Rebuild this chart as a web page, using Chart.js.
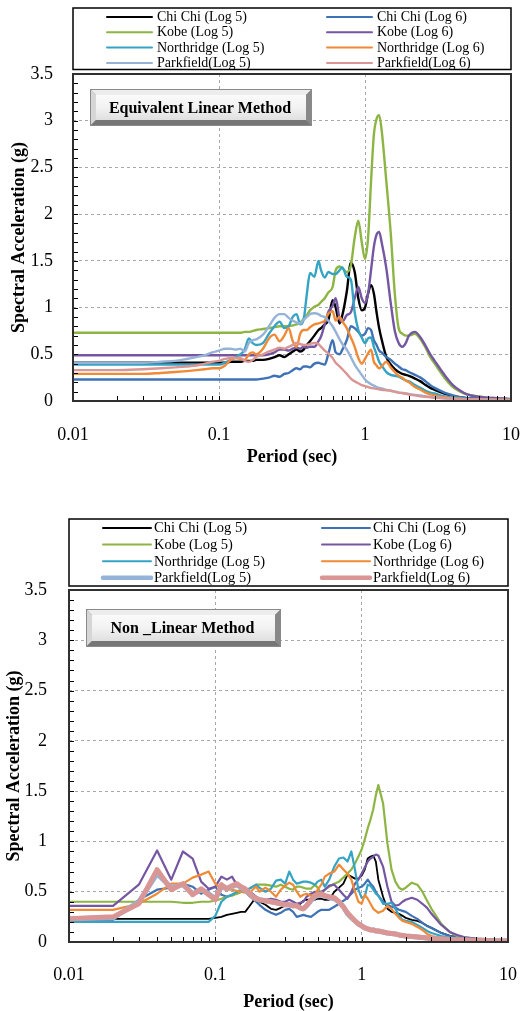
<!DOCTYPE html>
<html>
<head>
<meta charset="utf-8">
<title>Spectral Acceleration - Equivalent Linear / Non Linear</title>
<script src="https://cdn.jsdelivr.net/npm/chart.js@4.4.1/dist/chart.umd.min.js"></script>
<style>
  html, body { margin: 0; background: #fff; overflow: hidden; }
  #wrap { position: relative; width: 520px; height: 1011px; overflow: hidden; }
  canvas { position: absolute; left: 0; }
  #eqChart { top: 0; }
  #nlChart { top: 490px; }
</style>
</head>
<body>
<div id="wrap">
  <canvas id="eqChart" width="520" height="490"></canvas>
  <canvas id="nlChart" width="520" height="523"></canvas>
</div>
<script>
// series names / colours (same for both charts)
const seriesNames = ['Chi Chi (Log 5)', 'Chi Chi (Log 6)', 'Kobe (Log 5)', 'Kobe (Log 6)',
    'Northridge (Log 5)', 'Northridge (Log 6)', 'Parkfield(Log 5)', 'Parkfield(Log 6)'];
const seriesColors = ['#000000', '#3f72b5', '#8db543', '#7556a3', '#35a4c4', '#f08a36', '#95b3d7', '#d99694'];

// ---- Equivalent Linear Method : period (sec) / Sa (g)
const eqPeriods = [0.01, 0.02, 0.03, 0.04, 0.05, 0.06, 0.07, 0.08, 0.09, 0.1,
    0.11, 0.12, 0.13, 0.14, 0.15, 0.16, 0.17, 0.18, 0.2, 0.22,
    0.24, 0.26, 0.28, 0.3, 0.32, 0.34, 0.36, 0.38, 0.4, 0.42,
    0.45, 0.48, 0.5, 0.53, 0.56, 0.6, 0.63, 0.67, 0.7, 0.75,
    0.8, 0.85, 0.9, 0.95, 1, 1.05, 1.1, 1.15, 1.2, 1.25,
    1.3, 1.4, 1.5, 1.6, 1.7, 1.8, 1.9, 2, 2.2, 2.4,
    2.6, 2.8, 3, 3.5, 4, 4.5, 5, 6, 7, 8,
    10];
const eqChiChi5 = [0.41, 0.41, 0.41, 0.41, 0.41, 0.41, 0.41, 0.41, 0.41, 0.41,
    0.41, 0.42, 0.42, 0.42, 0.43, 0.43, 0.43, 0.44, 0.44, 0.45,
    0.47, 0.49, 0.47, 0.50, 0.53, 0.55, 0.53, 0.55, 0.60, 0.64,
    0.70, 0.76, 0.78, 0.82, 0.86, 1.08, 1.00, 0.83, 0.92, 1.17,
    1.48, 1.38, 1.10, 0.97, 1.00, 1.15, 1.24, 1.15, 0.95, 0.78,
    0.66, 0.47, 0.39, 0.34, 0.31, 0.29, 0.28, 0.27, 0.24, 0.21,
    0.17, 0.14, 0.12, 0.08, 0.05, 0.04, 0.03, 0.025, 0.02, 0.02,
    0.015];
const eqChiChi6 = [0.23, 0.23, 0.23, 0.23, 0.23, 0.23, 0.23, 0.23, 0.23, 0.23,
    0.23, 0.23, 0.23, 0.23, 0.23, 0.23, 0.23, 0.23, 0.24, 0.25,
    0.27, 0.26, 0.29, 0.30, 0.33, 0.35, 0.34, 0.37, 0.37, 0.36,
    0.40, 0.41, 0.40, 0.39, 0.50, 0.65, 0.52, 0.50, 0.55, 0.65,
    0.80, 0.78, 0.74, 0.70, 0.72, 0.78, 0.76, 0.65, 0.60, 0.54,
    0.52, 0.47, 0.44, 0.40, 0.37, 0.34, 0.33, 0.31, 0.28, 0.25,
    0.21, 0.17, 0.14, 0.09, 0.06, 0.04, 0.03, 0.025, 0.02, 0.02,
    0.015];
const eqKobe5 = [0.73, 0.73, 0.73, 0.73, 0.73, 0.73, 0.73, 0.73, 0.73, 0.73,
    0.73, 0.73, 0.73, 0.73, 0.74, 0.74, 0.75, 0.76, 0.77, 0.78,
    0.79, 0.80, 0.80, 0.80, 0.81, 0.82, 0.84, 0.88, 0.92, 0.97,
    1.01, 1.03, 1.06, 1.10, 1.16, 1.22, 1.40, 1.44, 1.42, 1.38,
    1.45, 1.75, 1.93, 1.70, 1.52, 1.75, 2.35, 2.85, 3.02, 3.06,
    2.90, 2.35, 1.80, 1.15, 0.78, 0.72, 0.70, 0.70, 0.72, 0.66,
    0.57, 0.47, 0.40, 0.25, 0.15, 0.10, 0.07, 0.05, 0.035, 0.03,
    0.02];
const eqKobe6 = [0.49, 0.49, 0.49, 0.49, 0.49, 0.49, 0.49, 0.49, 0.49, 0.49,
    0.49, 0.49, 0.49, 0.49, 0.49, 0.49, 0.49, 0.49, 0.49, 0.50,
    0.52, 0.55, 0.55, 0.54, 0.56, 0.57, 0.56, 0.58, 0.57, 0.58,
    0.58, 0.64, 0.69, 0.82, 0.95, 1.02, 1.10, 0.88, 0.85, 0.92,
    0.95, 1.10, 1.22, 1.10, 1.05, 1.15, 1.40, 1.65, 1.78, 1.81,
    1.70, 1.42, 1.05, 0.75, 0.62, 0.58, 0.62, 0.70, 0.74, 0.68,
    0.59, 0.50, 0.43, 0.28, 0.17, 0.11, 0.07, 0.045, 0.035, 0.03,
    0.02];
const eqNorth5 = [0.39, 0.39, 0.39, 0.39, 0.39, 0.39, 0.39, 0.39, 0.39, 0.39,
    0.41, 0.44, 0.47, 0.50, 0.55, 0.67, 0.62, 0.60, 0.62, 0.72,
    0.80, 0.85, 0.78, 0.80, 0.90, 0.93, 0.82, 0.87, 1.15, 1.37,
    1.33, 1.50, 1.40, 1.32, 1.38, 1.36, 1.36, 1.40, 1.43, 1.33,
    1.30, 0.95, 0.76, 0.68, 0.62, 0.67, 0.68, 0.58, 0.50, 0.42,
    0.38, 0.31, 0.28, 0.27, 0.26, 0.24, 0.22, 0.21, 0.17, 0.14,
    0.11, 0.09, 0.08, 0.05, 0.04, 0.03, 0.025, 0.02, 0.02, 0.015,
    0.015];
const eqNorth6 = [0.29, 0.29, 0.29, 0.30, 0.31, 0.32, 0.33, 0.34, 0.35, 0.35,
    0.38, 0.44, 0.46, 0.45, 0.44, 0.50, 0.52, 0.50, 0.56, 0.67,
    0.71, 0.64, 0.70, 0.78, 0.64, 0.58, 0.72, 0.76, 0.76, 0.79,
    0.82, 0.83, 0.84, 0.86, 0.93, 0.96, 0.86, 0.90, 0.85, 0.78,
    0.68, 0.58, 0.46, 0.40, 0.45, 0.51, 0.55, 0.42, 0.38, 0.35,
    0.37, 0.42, 0.36, 0.31, 0.27, 0.25, 0.22, 0.20, 0.15, 0.12,
    0.09, 0.07, 0.06, 0.04, 0.03, 0.025, 0.02, 0.02, 0.015, 0.015,
    0.01];
const eqPark5 = [0.41, 0.41, 0.41, 0.42, 0.43, 0.45, 0.47, 0.49, 0.52, 0.54,
    0.56, 0.56, 0.55, 0.56, 0.53, 0.62, 0.65, 0.66, 0.71, 0.80,
    0.89, 0.93, 0.93, 0.89, 0.86, 0.84, 0.83, 0.87, 0.90, 0.93,
    0.94, 0.93, 0.91, 0.90, 0.86, 0.80, 0.74, 0.66, 0.61, 0.55,
    0.47, 0.39, 0.33, 0.28, 0.23, 0.20, 0.18, 0.165, 0.15, 0.14,
    0.135, 0.12, 0.11, 0.10, 0.09, 0.085, 0.08, 0.075, 0.065, 0.06,
    0.05, 0.045, 0.04, 0.03, 0.025, 0.02, 0.02, 0.015, 0.015, 0.01,
    0.01];
const eqPark6 = [0.33, 0.33, 0.34, 0.35, 0.36, 0.37, 0.38, 0.40, 0.42, 0.43,
    0.45, 0.46, 0.46, 0.46, 0.43, 0.42, 0.44, 0.47, 0.50, 0.53,
    0.55, 0.57, 0.56, 0.58, 0.60, 0.62, 0.61, 0.60, 0.60, 0.61,
    0.62, 0.61, 0.58, 0.54, 0.51, 0.46, 0.41, 0.37, 0.34, 0.29,
    0.24, 0.21, 0.19, 0.17, 0.16, 0.15, 0.14, 0.135, 0.13, 0.125,
    0.12, 0.115, 0.11, 0.10, 0.09, 0.085, 0.08, 0.07, 0.06, 0.05,
    0.045, 0.04, 0.035, 0.03, 0.025, 0.02, 0.02, 0.015, 0.01, 0.01,
    0.01];

// ---- Non _Linear Method : period (sec) / Sa (g)
const nlPeriods = [0.01, 0.02, 0.03, 0.04, 0.05, 0.06, 0.07, 0.08, 0.09, 0.1,
    0.11, 0.12, 0.13, 0.14, 0.15, 0.16, 0.17, 0.18, 0.19, 0.2,
    0.22, 0.24, 0.26, 0.28, 0.3, 0.32, 0.34, 0.36, 0.38, 0.4,
    0.42, 0.45, 0.48, 0.5, 0.53, 0.56, 0.6, 0.65, 0.7, 0.75,
    0.8, 0.85, 0.9, 0.95, 1, 1.05, 1.1, 1.15, 1.2, 1.25,
    1.3, 1.4, 1.5, 1.6, 1.7, 1.8, 1.9, 2, 2.2, 2.4,
    2.6, 2.8, 3, 3.5, 4, 4.5, 5, 6, 7, 8,
    10];
const nlChiChi5 = [0.23, 0.23, 0.23, 0.23, 0.23, 0.23, 0.23, 0.23, 0.23, 0.24,
    0.25, 0.27, 0.28, 0.29, 0.30, 0.30, 0.35, 0.40, 0.45, 0.40,
    0.37, 0.33, 0.32, 0.34, 0.36, 0.38, 0.36, 0.38, 0.38, 0.41,
    0.42, 0.42, 0.42, 0.43, 0.43, 0.42, 0.42, 0.50, 0.54, 0.58,
    0.67, 0.65, 0.63, 0.63, 0.66, 0.72, 0.83, 0.85, 0.86, 0.80,
    0.62, 0.45, 0.33, 0.30, 0.29, 0.28, 0.26, 0.24, 0.22, 0.21,
    0.19, 0.16, 0.14, 0.09, 0.06, 0.05, 0.04, 0.03, 0.025, 0.02,
    0.02];
const nlChiChi6 = [0.22, 0.22, 0.42, 0.52, 0.54, 0.58, 0.55, 0.48, 0.52, 0.55,
    0.47, 0.45, 0.47, 0.48, 0.50, 0.50, 0.46, 0.43, 0.40, 0.37,
    0.32, 0.29, 0.27, 0.29, 0.32, 0.33, 0.30, 0.25, 0.26, 0.27,
    0.26, 0.25, 0.28, 0.30, 0.32, 0.32, 0.32, 0.35, 0.38, 0.41,
    0.44, 0.48, 0.52, 0.54, 0.55, 0.58, 0.62, 0.58, 0.55, 0.50,
    0.46, 0.40, 0.37, 0.35, 0.34, 0.32, 0.31, 0.30, 0.26, 0.23,
    0.19, 0.16, 0.14, 0.09, 0.06, 0.05, 0.04, 0.03, 0.025, 0.02,
    0.02];
const nlKobe5 = [0.40, 0.40, 0.40, 0.40, 0.40, 0.39, 0.39, 0.40, 0.40, 0.41,
    0.43, 0.45, 0.46, 0.48, 0.50, 0.51, 0.53, 0.55, 0.57, 0.57,
    0.57, 0.56, 0.55, 0.57, 0.55, 0.53, 0.52, 0.55, 0.55, 0.54,
    0.53, 0.53, 0.57, 0.54, 0.48, 0.52, 0.55, 0.58, 0.60, 0.64,
    0.68, 0.72, 0.78, 0.85, 0.92, 1.02, 1.13, 1.22, 1.32, 1.46,
    1.56, 1.38, 0.98, 0.72, 0.60, 0.54, 0.52, 0.54, 0.59, 0.57,
    0.50, 0.41, 0.33, 0.18, 0.10, 0.06, 0.045, 0.035, 0.03, 0.025,
    0.02];
const nlKobe6 = [0.36, 0.36, 0.57, 0.91, 0.62, 0.90, 0.83, 0.60, 0.53, 0.55,
    0.65, 0.62, 0.65, 0.57, 0.55, 0.53, 0.50, 0.48, 0.45, 0.43,
    0.42, 0.43, 0.42, 0.40, 0.40, 0.42, 0.40, 0.38, 0.39, 0.40,
    0.45, 0.48, 0.50, 0.49, 0.50, 0.52, 0.56, 0.57, 0.52, 0.47,
    0.43, 0.50, 0.58, 0.62, 0.68, 0.74, 0.80, 0.83, 0.85, 0.87,
    0.86, 0.75, 0.55, 0.40, 0.36, 0.37, 0.40, 0.42, 0.44, 0.42,
    0.38, 0.34, 0.28, 0.17, 0.10, 0.07, 0.05, 0.035, 0.03, 0.025,
    0.02];
const nlNorth5 = [0.20, 0.20, 0.20, 0.20, 0.20, 0.20, 0.20, 0.20, 0.20, 0.26,
    0.40, 0.45, 0.47, 0.50, 0.52, 0.52, 0.53, 0.55, 0.57, 0.54,
    0.50, 0.53, 0.61, 0.62, 0.58, 0.70, 0.62, 0.58, 0.59, 0.60,
    0.60, 0.59, 0.57, 0.60, 0.62, 0.55, 0.62, 0.75, 0.83, 0.84,
    0.80, 0.90, 0.72, 0.52, 0.44, 0.45, 0.57, 0.56, 0.52, 0.48,
    0.46, 0.38, 0.38, 0.39, 0.33, 0.26, 0.22, 0.21, 0.20, 0.17,
    0.14, 0.11, 0.09, 0.06, 0.045, 0.035, 0.03, 0.025, 0.02, 0.02,
    0.015];
const nlNorth6 = [0.32, 0.32, 0.38, 0.48, 0.58, 0.58, 0.64, 0.67, 0.70, 0.58,
    0.53, 0.52, 0.52, 0.51, 0.50, 0.49, 0.48, 0.52, 0.55, 0.50,
    0.54, 0.50, 0.45, 0.52, 0.56, 0.59, 0.57, 0.50, 0.45, 0.47,
    0.48, 0.46, 0.47, 0.52, 0.57, 0.65, 0.68, 0.70, 0.77, 0.72,
    0.68, 0.62, 0.50, 0.40, 0.38, 0.47, 0.43, 0.38, 0.33, 0.31,
    0.29, 0.31, 0.36, 0.33, 0.28, 0.24, 0.21, 0.20, 0.18, 0.15,
    0.12, 0.08, 0.06, 0.04, 0.03, 0.025, 0.02, 0.02, 0.015, 0.015,
    0.015];
const nlPark5 = [0.23, 0.24, 0.40, 0.68, 0.54, 0.57, 0.48, 0.52, 0.48, 0.43,
    0.55, 0.53, 0.55, 0.57, 0.54, 0.52, 0.48, 0.45, 0.43, 0.42,
    0.41, 0.40, 0.39, 0.38, 0.37, 0.37, 0.36, 0.36, 0.34, 0.33,
    0.36, 0.41, 0.45, 0.46, 0.47, 0.46, 0.44, 0.43, 0.40, 0.35,
    0.28, 0.24, 0.21, 0.18, 0.16, 0.14, 0.13, 0.12, 0.12, 0.11,
    0.11, 0.10, 0.09, 0.085, 0.08, 0.07, 0.065, 0.06, 0.055, 0.05,
    0.045, 0.04, 0.035, 0.03, 0.025, 0.02, 0.02, 0.015, 0.015, 0.01,
    0.01];
const nlPark6 = [0.23, 0.25, 0.38, 0.72, 0.52, 0.58, 0.47, 0.53, 0.47, 0.42,
    0.57, 0.53, 0.56, 0.58, 0.55, 0.53, 0.49, 0.45, 0.43, 0.42,
    0.41, 0.40, 0.39, 0.38, 0.37, 0.37, 0.36, 0.36, 0.34, 0.33,
    0.36, 0.42, 0.46, 0.47, 0.48, 0.46, 0.45, 0.44, 0.40, 0.35,
    0.29, 0.25, 0.21, 0.18, 0.16, 0.14, 0.13, 0.12, 0.12, 0.11,
    0.11, 0.10, 0.09, 0.085, 0.08, 0.07, 0.065, 0.06, 0.055, 0.05,
    0.045, 0.04, 0.035, 0.03, 0.025, 0.02, 0.02, 0.015, 0.015, 0.01,
    0.01];

// axis ticks
const decades = [0.01, 0.1, 1];
const periodTicks = [];
decades.forEach(d => { for (let k = 1; k <= 9; k++) periodTicks.push(+(k * d).toFixed(3)); });
periodTicks.push(10);
const saTicks = [];
for (let i = 0; i <= 35; i++) saTicks.push(i / 10);

const serif = "'Liberation Serif', 'Times New Roman', serif";

function isDecade(v) {
    const l = Math.log10(v);
    return Math.abs(l - Math.round(l)) < 1e-9;
}
function isHalf(v) {
    return Math.abs(v * 2 - Math.round(v * 2)) < 1e-9;
}

function makeDatasets(periods, series, widths, smooth) {
    return series.map((vals, i) => ({
        label: seriesNames[i],
        data: periods.map((p, j) => ({ x: p, y: vals[j] })),
        borderColor: seriesColors[i],
        backgroundColor: seriesColors[i],
        borderWidth: widths[i],
        pointRadius: 0,
        fill: false,
        tension: smooth ? 0.4 : 0,
        cubicInterpolationMode: smooth ? 'monotone' : 'default',
        borderJoinStyle: 'round',
        order: 8 - i
    }));
}

// plot frame + inward minor ticks
const framePlugin = {
    id: 'frame',
    afterDatasetsDraw(chart) {
        const { ctx, chartArea: a, scales } = chart;
        ctx.save();
        ctx.strokeStyle = '#000';
        ctx.lineWidth = 1;
        scales.y.ticks.forEach(t => {
            const py = Math.round(scales.y.getPixelForValue(t.value)) + 0.5;
            ctx.beginPath(); ctx.moveTo(a.left, py); ctx.lineTo(a.left + 5, py); ctx.stroke();
        });
        scales.x.ticks.forEach(t => {
            const px = Math.round(scales.x.getPixelForValue(t.value)) + 0.5;
            ctx.beginPath(); ctx.moveTo(px, a.bottom); ctx.lineTo(px, a.bottom - 5); ctx.stroke();
        });
        ctx.strokeStyle = '#303030';
        ctx.lineWidth = 2;
        ctx.strokeRect(a.left, a.top, a.right - a.left, a.bottom - a.top);
        ctx.restore();
    }
};

// two column legend in a box above the plot
const legendBoxPlugin = {
    id: 'legendBox',
    afterDraw(chart, args, o) {
        const { ctx, chartArea: a } = chart;
        ctx.save();
        ctx.strokeStyle = '#000';
        ctx.lineWidth = 1.5;
        ctx.strokeRect(a.left, o.top, a.right - a.left, o.bottom - o.top);
        ctx.font = o.fontSize + 'px ' + serif;
        ctx.textBaseline = 'middle';
        ctx.textAlign = 'left';
        ctx.lineCap = 'round';
        chart.data.datasets.forEach((ds, i) => {
            const col = i % 2, row = Math.floor(i / 2);
            const y = o.rowTop + row * o.rowGap;
            const x0 = o.lineX[col];
            ctx.strokeStyle = ds.borderColor;
            ctx.lineWidth = Math.max(2, ds.borderWidth - 0.5);
            ctx.beginPath(); ctx.moveTo(x0, y); ctx.lineTo(x0 + o.lineLen, y); ctx.stroke();
            ctx.fillStyle = '#000';
            ctx.fillText(ds.label, x0 + o.lineLen + o.gap, y + 0.5);
        });
        ctx.restore();
    }
};

// bevelled label box
const methodBoxPlugin = {
    id: 'methodBox',
    afterDraw(chart, args, o) {
        const ctx = chart.ctx;
        const { x, y, w, h } = o;
        const b = 5;
        ctx.save();
        ctx.fillStyle = '#8a8a8a';
        ctx.fillRect(x, y, w, h);
        // bevel sides
        const side = (pts, col) => {
            ctx.fillStyle = col;
            ctx.beginPath();
            ctx.moveTo(pts[0], pts[1]);
            for (let i = 2; i < pts.length; i += 2) ctx.lineTo(pts[i], pts[i + 1]);
            ctx.closePath(); ctx.fill();
        };
        side([x + 1, y + 1, x + w - 1, y + 1, x + w - 1 - b, y + 1 + b, x + 1 + b, y + 1 + b], '#ededed');
        side([x + 1, y + 1, x + 1 + b, y + 1 + b, x + 1 + b, y + h - 1 - b, x + 1, y + h - 1], '#d6d6d6');
        side([x + 1, y + h - 1, x + 1 + b, y + h - 1 - b, x + w - 1 - b, y + h - 1 - b, x + w - 1, y + h - 1], '#767676');
        side([x + w - 1, y + 1, x + w - 1, y + h - 1, x + w - 1 - b, y + h - 1 - b, x + w - 1 - b, y + 1 + b], '#888888');
        const g = ctx.createLinearGradient(0, y + b, 0, y + h - b);
        g.addColorStop(0, '#fbfbfb');
        g.addColorStop(0.5, '#f2f2f2');
        g.addColorStop(1, '#dedede');
        ctx.fillStyle = g;
        ctx.fillRect(x + 1 + b, y + 1 + b, w - 2 - 2 * b, h - 2 - 2 * b);
        ctx.fillStyle = '#000';
        ctx.font = 'bold ' + o.fontSize + 'px ' + serif;
        ctx.textAlign = 'center';
        ctx.textBaseline = 'middle';
        ctx.fillText(o.text, x + w / 2 - 1, y + h / 2 + 1);
        ctx.restore();
    }
};

function makeChart(id, periods, series, widths, smooth, lay) {
    return new Chart(document.getElementById(id), {
        type: 'line',
        data: { datasets: makeDatasets(periods, series, widths, smooth) },
        plugins: [framePlugin, legendBoxPlugin, methodBoxPlugin],
        options: {
            responsive: false,
            animation: false,
            devicePixelRatio: 1,
            layout: { padding: { left: 0, right: lay.padRight, top: lay.padTop, bottom: lay.padBottom } },
            scales: {
                x: {
                    type: 'logarithmic',
                    min: 0.01,
                    max: 10,
                    afterBuildTicks: s => { s.ticks = periodTicks.map(v => ({ value: v })); },
                    afterFit: s => { s.height = lay.xHeight; },
                    grid: {
                        drawTicks: true,
                        tickLength: lay.xPad,
                        tickColor: 'rgba(0,0,0,0)',
                        lineWidth: 1,
                        color: c => (c.tick && isDecade(c.tick.value) && c.tick.value > 0.011 && c.tick.value < 9.9) ? '#a8a8a8' : 'rgba(0,0,0,0)'
                    },
                    border: { display: false, dash: [3, 3] },
                    ticks: {
                        autoSkip: false,
                        maxRotation: 0,
                        minRotation: 0,
                        padding: 0,
                        color: '#000',
                        font: { family: serif, size: 18 },
                        callback: v => isDecade(v) ? String(v) : ''
                    },
                    title: {
                        display: true,
                        text: 'Period (sec)',
                        color: '#000',
                        font: { family: serif, size: 18, weight: 'bold' },
                        padding: 0
                    }
                },
                y: {
                    type: 'linear',
                    min: 0,
                    max: 3.5,
                    afterBuildTicks: s => { s.ticks = saTicks.map(v => ({ value: v })); },
                    afterFit: s => { s.width = lay.yWidth; },
                    grid: {
                        drawTicks: true,
                        tickLength: lay.yPad,
                        tickColor: 'rgba(0,0,0,0)',
                        lineWidth: 1,
                        color: c => (c.tick && isHalf(c.tick.value) && c.tick.value > 0.01 && c.tick.value < 3.49) ? '#a8a8a8' : 'rgba(0,0,0,0)'
                    },
                    border: { display: false, dash: [3, 3] },
                    ticks: {
                        autoSkip: false,
                        padding: 0,
                        color: '#000',
                        font: { family: serif, size: 18 },
                        callback: v => isHalf(v) ? String(v) : ''
                    },
                    title: {
                        display: true,
                        text: 'Spectral Acceleration (g)',
                        color: '#000',
                        font: { family: serif, size: 18, weight: 'bold' },
                        padding: { top: lay.yTitlePad, bottom: 0 }
                    }
                }
            },
            plugins: {
                legend: { display: false },
                tooltip: { enabled: false },
                legendBox: lay.legend,
                methodBox: lay.box
            }
        }
    });
}

makeChart('eqChart', eqPeriods,
    [eqChiChi5, eqChiChi6, eqKobe5, eqKobe6, eqNorth5, eqNorth6, eqPark5, eqPark6],
    [2.4, 2.4, 2.4, 2.4, 2.4, 2.4, 2.4, 2.4], true,
    {
        padTop: 74, padRight: 9, padBottom: 22, xHeight: 67, yWidth: 73,
        xPad: 23, yPad: 20, yTitlePad: 9,
        legend: { top: 8, bottom: 69.5, rowTop: 17, rowGap: 15.3, lineX: [107, 327], lineLen: 45, gap: 5, fontSize: 14 },
        box: { x: 90, y: 89, w: 222, h: 37, text: 'Equivalent Linear Method', fontSize: 16 }
    });

makeChart('nlChart', nlPeriods,
    [nlChiChi5, nlChiChi6, nlKobe5, nlKobe6, nlNorth5, nlNorth6, nlPark5, nlPark6],
    [1.8, 2.2, 2.2, 2.2, 2.2, 2.2, 5, 5], false,
    {
        padTop: 100, padRight: 12, padBottom: 0, xHeight: 71, yWidth: 69,
        xPad: 22, yPad: 22, yTitlePad: 4,
        legend: { top: 29, bottom: 96, rowTop: 38, rowGap: 16.6, lineX: [103, 322], lineLen: 48, gap: 3, fontSize: 14.5 },
        box: { x: 86, y: 119, w: 195, h: 38, text: 'Non _Linear Method', fontSize: 16 }
    });
</script>
</body>
</html>
